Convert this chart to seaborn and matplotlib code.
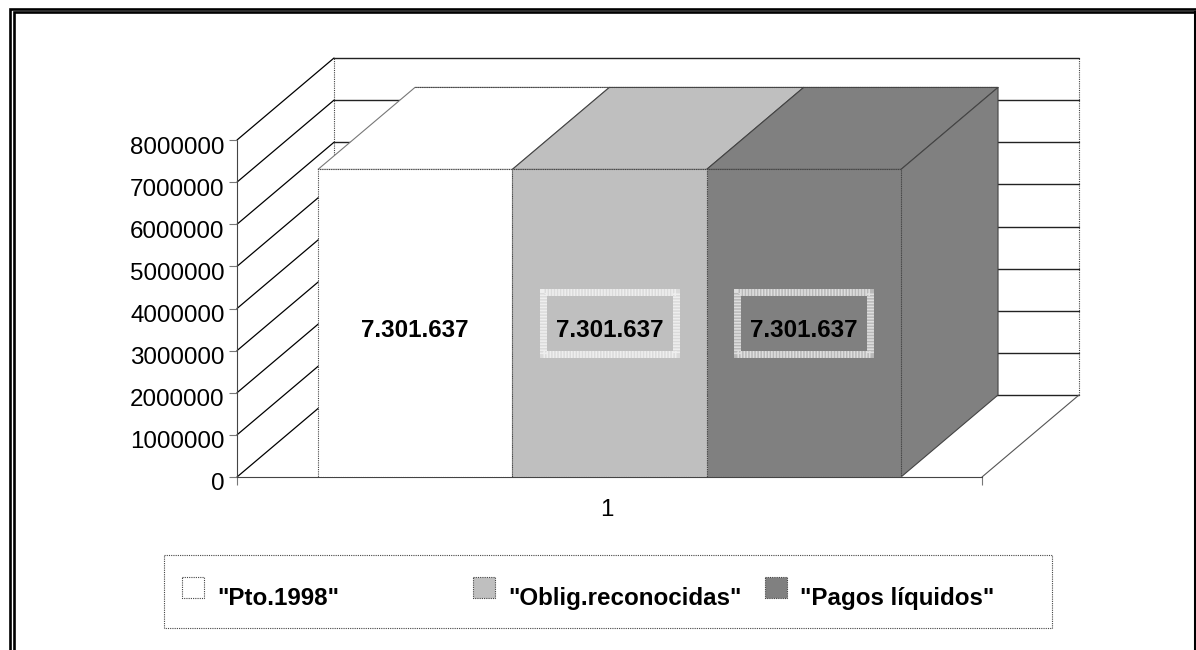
import pandas as pd
import seaborn as sns
import matplotlib
matplotlib.use('Agg')
import matplotlib.pyplot as plt
from matplotlib.patches import Polygon, Rectangle
from matplotlib.lines import Line2D
from matplotlib.transforms import Affine2D, ScaledTranslation

series_names = ['"Pto.1998"', '"Oblig.reconocidas"', '"Pagos líquidos"']
series_values = [7301637, 7301637, 7301637]
value_labels = ['7.301.637', '7.301.637', '7.301.637']
category = ['1', '1', '1']
colors = ['#FFFFFF', '#BFBFBF', '#808080']
y_ticks = [0, 1000000, 2000000, 3000000, 4000000, 5000000, 6000000, 7000000, 8000000]

W, H = 1196, 650
DEPTH_X, DEPTH_Y = 97, 82  # fake 3d offset, pixels
DOTTED = (0, (1, 1))
DARK = '#444444'
FONT = 17.4

sns.set_theme(style='white')
plt.rcParams['font.family'] = ['Liberation Sans', 'DejaVu Sans']

fig = plt.figure(figsize=(W / 100, H / 100), dpi=100, facecolor='white')
ax = fig.add_axes([237 / W, (H - 477) / H, 745 / W, 337 / H])
ax.patch.set_visible(False)

df = pd.DataFrame({'cat': category, 'serie': series_names, 'valor': series_values})
sns.barplot(data=df, x='cat', y='valor', hue='serie', hue_order=series_names,
            palette=colors, saturation=1, width=0.7826, gap=0, legend=False, ax=ax,
            edgecolor=DARK, linewidth=0.8, linestyle=DOTTED)
ax.set_xlim(-0.5, 0.5)
ax.set_ylim(0, 8000000)
ax.set_xlabel('')
ax.set_ylabel('')
ax.set_yticks(y_ticks)
ax.ticklabel_format(axis='y', style='plain')
ax.tick_params(axis='y', length=6, width=0.8, color='#777777', labelsize=FONT, labelcolor='black', pad=3, left=True)
ax.tick_params(axis='x', length=0, labelsize=FONT, labelcolor='black', pad=16)
ax.set_xticks([-0.5, 0.5], minor=True)
ax.tick_params(axis='x', which='minor', length=6, width=0.8, color='#777777', bottom=True)

for s in ['top', 'right']:
    ax.spines[s].set_visible(False)
for s in ['left', 'bottom']:
    ax.spines[s].set_color(DARK)
    ax.spines[s].set_linewidth(0.8)
    ax.spines[s].set_linestyle(DOTTED)

# tick labels sit a bit under their ticks in the original
for lab in ax.get_yticklabels():
    lab.set_transform(lab.get_transform() + ScaledTranslation(0, -5 / 100, fig.dpi_scale_trans))
for lab in ax.get_xticklabels():
    lab.set_transform(lab.get_transform() + ScaledTranslation(-3 / 100, 0, fig.dpi_scale_trans))


def disp(x, y):
    return ax.transData.transform((x, y))


def add_poly(points, face, edge=DARK, lw=0.8, ls='-', z=2):
    ax.add_patch(Polygon(points, closed=True, facecolor=face, edgecolor=edge, linewidth=lw,
                         linestyle=ls, transform=None, clip_on=False, zorder=z))


def add_line(p0, p1, color='black', lw=1.0, ls='-', z=0.5):
    ax.add_line(Line2D([p0[0], p1[0]], [p0[1], p1[1]], color=color, linewidth=lw, linestyle=ls,
                       transform=None, clip_on=False, zorder=z))


# walls and floor
x0, x1 = ax.get_xlim()
for v in y_ticks:
    a = disp(x0, v)
    back = a + (DEPTH_X, DEPTH_Y)
    add_line(a, back, lw=0.9)
    add_line(back, disp(x1, v) + (DEPTH_X, DEPTH_Y), lw=1.0, color='#222222')
add_line(disp(x0, 0) + (DEPTH_X, DEPTH_Y), disp(x0, 8000000) + (DEPTH_X, DEPTH_Y), color=DARK, lw=0.8, ls=DOTTED)
add_line(disp(x1, 0) + (DEPTH_X, DEPTH_Y), disp(x1, 8000000) + (DEPTH_X, DEPTH_Y), color=DARK, lw=0.8, ls=DOTTED)
add_line(disp(x1, 0), disp(x1, 0) + (DEPTH_X, DEPTH_Y), color='#555555', lw=0.8)

# bars: side and top faces come from the bar rectangles
bars = [p for p in ax.patches if isinstance(p, Rectangle)]
bars = sorted(bars, key=lambda p: p.get_x())[:len(series_values)]
for i, bar in enumerate(bars):
    bar.set_zorder(3)
    left, right = bar.get_x(), bar.get_x() + bar.get_width()
    top = bar.get_height()
    fl, fr = disp(left, top), disp(right, top)
    add_poly([fl, fr, fr + (DEPTH_X, DEPTH_Y), fl + (DEPTH_X, DEPTH_Y)], colors[i],
             edge='#777777' if i == 0 else DARK, z=2)
    if i == len(bars) - 1:
        br = disp(right, 0)
        add_poly([br, fr, fr + (DEPTH_X, DEPTH_Y), br + (DEPTH_X, DEPTH_Y)], colors[i], z=2)
    # redraw the top back edge dotted
    add_line(fl + (DEPTH_X, DEPTH_Y), fr + (DEPTH_X, DEPTH_Y), color=DARK, lw=0.8, ls=DOTTED, z=2.5)

    cx = left + bar.get_width() / 2
    ax.annotate(value_labels[i], (cx, top / 2), xytext=(0, -5), textcoords='offset points',
                ha='center', va='center', fontsize=FONT, fontweight='bold', color='black', zorder=6)
    if i > 0:
        c = disp(cx, top / 2)
        box = (c[0] - 66.5, c[1] - 31)
        # soft white band plus fine stripes on top
        ax.add_patch(Rectangle(box, 133, 62, fill=False, edgecolor='white', alpha=0.45, linewidth=5,
                               transform=None, clip_on=False, zorder=5))
        ax.add_patch(Rectangle(box, 133, 62, fill=False, edgecolor='white', alpha=0.55, linewidth=5,
                               linestyle=(0, (0.22, 0.22)), transform=None, clip_on=False, zorder=5))

# pixel coords for the page furniture (frame and legend)
px = Affine2D().scale(1, -1).translate(0, H) + Affine2D().scale(1 / W, 1 / H) + fig.transFigure


def frame_line(xs, ys, lw):
    fig.add_artist(Line2D(xs, ys, color='black', linewidth=lw, transform=px, solid_capstyle='projecting',
                          solid_joinstyle='miter'))


frame_line([10, 10, 1196], [650, 9, 9], 1.9)
frame_line([14, 14, 1194.5], [650, 12, 12], 1.9)
frame_line([1194.5, 1194.5], [12, 650], 2.2)

fig.add_artist(Rectangle((164, 555), 888, 73, fill=True, facecolor='white', edgecolor=DARK, linewidth=0.8,
                         linestyle=DOTTED, transform=px))
swatch_x = [182, 473, 765]
text_x = [217, 508, 800]
for name, col, sx, tx in zip(series_names, colors, swatch_x, text_x):
    fig.add_artist(Rectangle((sx, 577), 22, 21, facecolor=col, edgecolor=DARK, linewidth=0.8,
                             linestyle=DOTTED, transform=px))
    fig.text(tx, 605, name, transform=px, fontsize=FONT, fontweight='bold', color='black', ha='left', va='baseline')

fig.savefig('out.png', dpi=100, facecolor='white')
